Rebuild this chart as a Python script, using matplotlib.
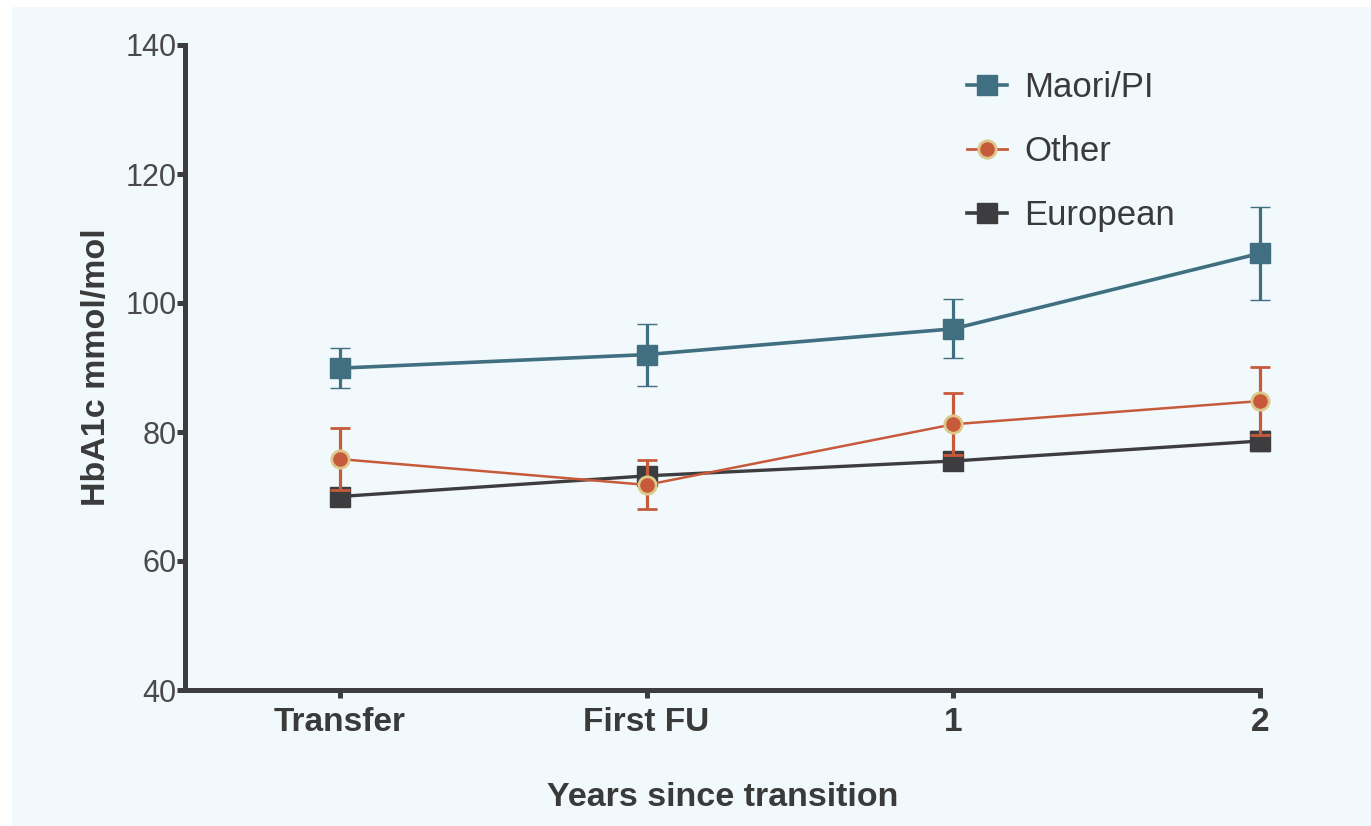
import matplotlib.pyplot as plt
from matplotlib.lines import Line2D
from matplotlib.patches import Rectangle

plt.rcParams['font.family'] = ['Liberation Sans', 'DejaVu Sans']

categories = ["Transfer", "First FU", "1", "2"]

maori_mean = [89.9, 92.0, 96.0, 107.7]
maori_err = [3.1, 4.8, 4.6, 7.2]

other_mean = [75.8, 71.8, 81.2, 84.8]
other_err = [4.8, 3.8, 4.8, 5.3]

euro_mean = [70.0, 73.2, 75.5, 78.6]
euro_err = [1.2, 1.4, 1.3, 1.5]

y_ticks = [40, 60, 80, 100, 120, 140]

bg = "#f2f9fc"
c_maori = "#3f6f80"
c_other = "#c75a3a"
c_other_edge = "#dcc88a"
c_euro = "#3d3d3f"

fig = plt.figure(figsize=(13.71, 8.26), dpi=100, facecolor="white")
# light panel with a thin white margin at top and left
fig.patches.append(Rectangle((12 / 1371, 0), 1, 1 - 7 / 826, transform=fig.transFigure,
                             facecolor=bg, edgecolor='none', zorder=-10))

ax = fig.add_axes([185 / 1371, 136 / 826, (1260 - 185) / 1371, (690 - 45) / 826])
ax.set_facecolor(bg)
ax.set_zorder(1)

x = list(range(len(categories)))

# European first so the others sit on top
series = [
    (euro_mean, euro_err, c_euro, c_euro, 's', 14, 2.4, 3),
    (other_mean, other_err, c_other, c_other_edge, 'o', 12.5, 1.8, 4),
    (maori_mean, maori_err, c_maori, c_maori, 's', 14, 2.6, 5),
]
for mean, err, col, edge, mk, ms, lw, z in series:
    cont = ax.errorbar(x, mean, yerr=err, color=col, lw=lw, marker=mk, ms=ms,
                       mfc=col, mec=edge, mew=2.0 if mk == 'o' else 1.0,
                       elinewidth=2.3, capsize=7, capthick=2.3, zorder=z)
    arts = [cont.lines[0]] + list(cont.lines[1]) + list(cont.lines[2])
    for art in arts:
        art.set_clip_on(False)

ax.set_xlim(-0.505, 3.0)
ax.set_ylim(40, 140)
ax.set_xticks(x)
ax.set_xticklabels(categories, fontsize=24, fontweight='bold', color="#3a3a3a")
ax.set_yticks(y_ticks)
ax.set_yticklabels([str(v) for v in y_ticks], fontsize=22, color="#4a4a4a")

for side in ['top', 'right']:
    ax.spines[side].set_visible(False)
for side in ['left', 'bottom']:
    ax.spines[side].set_linewidth(3.6)
    ax.spines[side].set_color(c_euro)
    ax.spines[side].set_capstyle('projecting')

ax.tick_params(axis='both', direction='out', length=6, width=3.6, color=c_euro)
ax.tick_params(axis='y', pad=0)
ax.tick_params(axis='x', pad=6)

ax.set_ylabel("HbA1c mmol/mol", fontsize=24.5, fontweight='bold', color="#3a3a3a", labelpad=10)
ax.set_xlabel("Years since transition", fontsize=24.5, fontweight='bold', color="#3a3a3a", labelpad=32)

handles = [
    Line2D([], [], color=c_maori, lw=2.6, marker='s', ms=14, mfc=c_maori, mec=c_maori),
    Line2D([], [], color=c_other, lw=2.0, marker='o', ms=12.5, mfc=c_other, mec=c_other_edge, mew=2.0),
    Line2D([], [], color=c_euro, lw=2.6, marker='s', ms=14, mfc=c_euro, mec=c_euro),
]
leg = fig.legend(handles, ["Maori/PI", "Other", "European"], loc='upper left',
                 bbox_to_anchor=(967 / 1371, 1 - 71 / 826), frameon=False,
                 fontsize=25, handlelength=1.15, handletextpad=0.5, labelspacing=0.9,
                 borderpad=0, borderaxespad=0)
leg.set_zorder(2)
for t in leg.get_texts():
    t.set_color("#3a3a3a")

fig.savefig("out.png", dpi=100, facecolor="white")
